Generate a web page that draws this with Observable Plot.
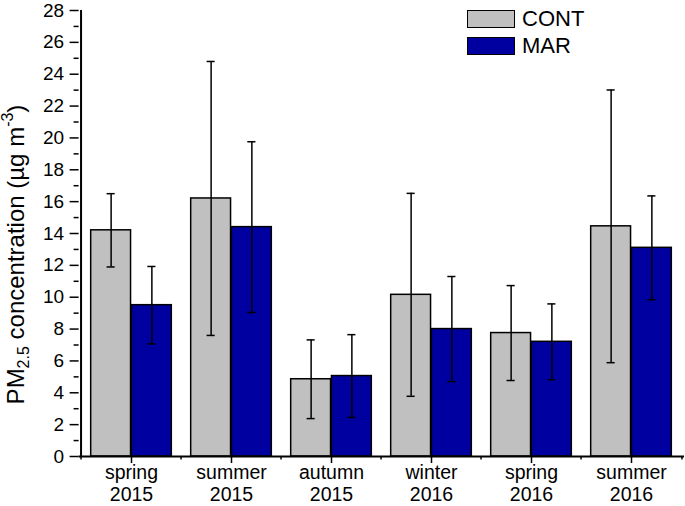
<!DOCTYPE html>
<html><head><meta charset="utf-8">
<script src="https://cdn.jsdelivr.net/npm/d3@7"></script>
<script src="https://cdn.jsdelivr.net/npm/@observablehq/plot@0.6"></script>
<style>
body{margin:0;background:#fff;font-family:"Liberation Sans",Arial,Helvetica,sans-serif;}
#wrap{position:relative;width:685px;height:506px;}
#legend{position:absolute;left:467px;top:5px;}
.item{display:flex;align-items:center;height:27px;font-size:22px;color:#000;}
.sw{width:46px;height:16px;border:1.5px solid #000;margin-right:7px;box-sizing:content-box;}
</style></head><body><div id="wrap"><div id="legend"></div></div>
<script>
// ---- data ----
const seasons = ["spring\n2015","summer\n2015","autumn\n2015","winter\n2016","spring\n2016","summer\n2016"];
const series = ["CONT","MAR"];
const seriesColors = ["#c0c0c0","#0000a0"];
const contMean = [14.2, 16.2, 4.85, 10.15, 7.75, 14.45];
const contSd   = [2.3, 8.6, 2.47, 6.37, 2.98, 8.56];
const marMean  = [9.5, 14.4, 5.05, 8.0, 7.2, 13.1];
const marSd    = [2.43, 5.36, 2.6, 3.3, 2.38, 3.26];
const yMajorTicks = [0,2,4,6,8,10,12,14,16,18,20,22,24,26,28];
const yMinorTicks = [1,3,5,7,9,11,13,15,17,19,21,23,25,27];

// ---- layout ----
const W=685,H=506,mL=78.6,mR=1,mT=10,mB=50;
const bw=(W-mL-mR)/seasons.length;
const font='"Liberation Sans",Arial,Helvetica,sans-serif';

const rows = seasons.map((s,i)=>({season:s, cont:contMean[i], contSd:contSd[i], mar:marMean[i], marSd:marSd[i]}));

const barOuter = 0.096*bw, half = 0.5*bw, off = 0.2019*bw, cap = 4.5;

const chart = Plot.plot({
  width:W, height:H, marginLeft:mL, marginRight:mR, marginTop:mT, marginBottom:mB,
  style:{fontFamily:font, background:"white", color:"black", overflow:"visible"},
  x:{type:"band", domain:seasons, padding:0},
  y:{domain:[0,28]},
  marks:[
    Plot.barY(rows,{x:"season", y:"cont", fill:seriesColors[0], stroke:"black", strokeWidth:1.5, insetLeft:barOuter, insetRight:half}),
    Plot.barY(rows,{x:"season", y:"mar", fill:seriesColors[1], stroke:"black", strokeWidth:1.5, insetLeft:half, insetRight:barOuter}),
    Plot.ruleX(rows,{x:"season", y1:d=>d.cont-d.contSd, y2:d=>d.cont+d.contSd, dx:-off, stroke:"black", strokeWidth:1.5}),
    Plot.ruleX(rows,{x:"season", y1:d=>d.mar-d.marSd, y2:d=>d.mar+d.marSd, dx:off, stroke:"black", strokeWidth:1.5}),
    Plot.tickY(rows,{x:"season", y:d=>d.cont+d.contSd, insetLeft:half-off-cap, insetRight:half+off-cap, stroke:"black", strokeWidth:1.5}),
    Plot.tickY(rows,{x:"season", y:d=>d.cont-d.contSd, insetLeft:half-off-cap, insetRight:half+off-cap, stroke:"black", strokeWidth:1.5}),
    Plot.tickY(rows,{x:"season", y:d=>d.mar+d.marSd, insetLeft:half+off-cap, insetRight:half-off-cap, stroke:"black", strokeWidth:1.5}),
    Plot.tickY(rows,{x:"season", y:d=>d.mar-d.marSd, insetLeft:half+off-cap, insetRight:half-off-cap, stroke:"black", strokeWidth:1.5}),
    Plot.ruleY([0],{stroke:"black", strokeWidth:2}),
    Plot.ruleX([seasons[0]],{y1:0, y2:28, dx:-bw/2, stroke:"black", strokeWidth:2}),
    Plot.axisX({tickSize:7, tickPadding:0, fontSize:19.5, lineHeight:1.12, label:null, strokeWidth:1.5}),
    Plot.axisX({tickSize:3.5, tickFormat:()=>"", dx:-bw/2, label:null, strokeWidth:1.5}),
    Plot.axisX({ticks:[seasons[seasons.length-1]], tickSize:3.5, tickFormat:()=>"", dx:bw/2, label:null, strokeWidth:1.5}),
    Plot.axisY({ticks:yMajorTicks, tickSize:9, tickPadding:6, fontSize:19, label:null, strokeWidth:1.5}),
    Plot.axisY({ticks:yMinorTicks, tickSize:5, tickFormat:()=>"", label:null, strokeWidth:1.5})
  ]
});

// y-axis title with sub/superscripts
const t = d3.select(chart).append("text")
  .attr("transform","translate(24,254.5) rotate(-90)")
  .attr("text-anchor","middle").attr("font-size",24).attr("font-family",font).attr("fill","black");
t.append("tspan").text("PM");
t.append("tspan").attr("font-size",16).attr("dy",5).text("2.5");
t.append("tspan").attr("dy",-5).text(" concentration (µg m");
t.append("tspan").attr("font-size",16).attr("dy",-11).text("-3");
t.append("tspan").attr("dy",11).text(")");

document.getElementById("wrap").prepend(chart);

// legend
const lg = d3.select("#legend");
series.forEach((s,i)=>{
  const it = lg.append("div").attr("class","item");
  it.append("div").attr("class","sw").style("background",seriesColors[i]);
  it.append("span").text(s);
});
</script></body></html>
